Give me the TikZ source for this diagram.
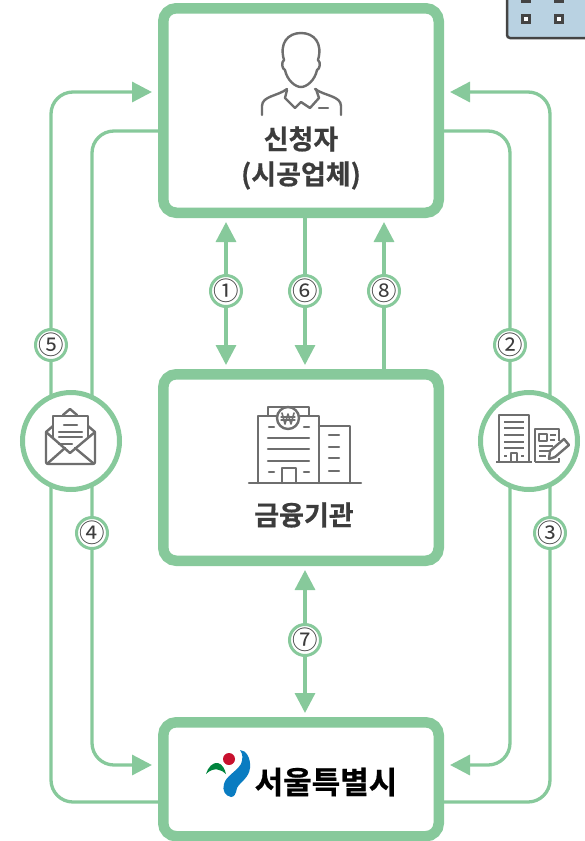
\documentclass[tikz,border=0pt]{standalone}
\usepackage{fontspec}
\setmainfont{Liberation Serif}
\newfontfamily\krfont{Noto Sans CJK KR}
\newfontfamily\krheavy[FakeBold=0.6]{Noto Sans CJK KR Bold}
\usepackage{xcolor}
\usetikzlibrary{arrows.meta, backgrounds, positioning}
\definecolor{Leaf}{HTML}{87C99B}
\definecolor{IconGray}{HTML}{6E6E6E}
\definecolor{InkGray}{HTML}{3C3C3C}
\definecolor{PaleBlue}{HTML}{B9D2E2}
\definecolor{SlateDark}{HTML}{444444}
\definecolor{SeoulRed}{HTML}{C8102E}
\definecolor{SeoulGreen}{HTML}{00843D}
\definecolor{SeoulBlue}{HTML}{0A7CC1}
\tikzset{%
  stage/.style={%
    rectangle,%
    draw=Leaf,%
    fill=white,%
    line width=10.5pt,%
    rounded corners=13pt,%
    minimum width=275.5pt,%
    outer sep=5.25pt,%
  },
  disc/.style={%
    circle,%
    draw=Leaf,%
    fill=white,%
    line width=5pt,%
    minimum size=97pt,%
    inner sep=0pt,%
  },
  stepnum/.style={%
    circle,%
    draw=Leaf,%
    fill=white,%
    line width=3pt,%
    minimum size=31pt,%
    inner sep=-8pt,%
    text=InkGray,%
    font={\krfont\fontsize{25.5}{25.5}\selectfont},%
  },
  flow/.style={%
    draw=Leaf,%
    line width=3.3pt,%
    rounded corners=22pt,%
    shorten >=4pt,%
    shorten <=4pt,%
  },
  arrow/.style={-{Triangle[length=20pt, width=20pt]}},
  twoway/.style={{Triangle[length=20pt, width=20pt]}-{Triangle[length=20pt, width=20pt]}},
  title/.style={%
    text=InkGray,%
    align=center,%
    font={\krheavy\fontsize{27}{35}\selectfont},%
  },
  glyph/.style={%
    draw=IconGray,%
    line width=2.4pt,%
    line join=round,%
    line cap=round,%
  },
  thickglyph/.style={glyph, line width=2.7pt, line cap=butt},
}
\begin{document}
\begin{tikzpicture}[x=1pt, y=-1pt]
    \useasboundingbox (0,0) rectangle (585,841);

    \node [stage, minimum height=204.5pt] (Applicant) at (301,110.5) {};
    \node [stage, minimum height=186.5pt, below = 151pt of Applicant] (Bank) {};
    \node [stage, minimum height=114pt, below = 151pt of Bank] (City) {};

    \node [disc] (MailDisc) at (71,441) {};
    \node [disc] (PermitDisc) at (529,441) {};

    \node [stepnum] (Num1) at (226,291) {①};
    \node [stepnum] (Num6) at (305,291) {⑥};
    \node [stepnum] (Num8) at (384,291) {⑧};
    \node [stepnum] (Num5) at (51,345) {⑤};
    \node [stepnum] (Num4) at (92,533) {④};
    \node [stepnum] (Num2) at (510,345) {②};
    \node [stepnum] (Num3) at (550,533) {③};
    \node [stepnum] (Num7) at (305,640) {⑦};

    \node [title] (ApplicantText) at (301,158) {신청자\\(시공업체)};
    \node [title] (BankText) at (304,515) {금융기관};
    \node [title, text=black, font={\krheavy\fontsize{31}{31}\selectfont}]
      (CityText) at (326,782) {서울특별시};

    \begin{pgfonlayer}{background}
      \draw [flow, twoway] (Num1 |- Applicant.south) -- (Num1 |- Bank.north);
      \draw [flow, arrow, shorten <=0pt] (Num6 |- Applicant.south) -- (Num6 |- Bank.north);
      \draw [flow, arrow, shorten <=0pt] (Num8 |- Bank.north) -- (Num8 |- Applicant.south);
      \draw [flow, twoway] (Num7 |- Bank.south) -- (Num7 |- City.north);

      \draw [flow, arrow, shorten <=0pt, shorten >=6pt]
        (City.west |- 0,802) -| (Num5.center) |- (Applicant.west |- 0,92);
      \draw [flow, arrow, shorten <=0pt, shorten >=6pt]
        (Applicant.west |- 0,131) -| (Num4.center) |- (City.west |- 0,765);
      \draw [flow, arrow, shorten <=0pt, shorten >=6pt]
        (Applicant.east |- 0,131) -| (Num2.center) |- (City.east |- 0,765);
      \draw [flow, arrow, shorten <=0pt, shorten >=6pt]
        (City.east |- 0,802) -| (Num3.center) |- (Applicant.east |- 0,92);
    \end{pgfonlayer}

    % corner sheet
    \fill [PaleBlue, draw=SlateDark, line width=2.5pt, rounded corners=3pt]
      (507,-10) -- (507,38) -- (600,38) -- (600,-10) -- cycle;
    \foreach \px in {526,559} {
      \draw [SlateDark, line width=3pt, fill=white] (\px-3.5,15.5) rectangle (\px+3.5,22.5);
      \draw [SlateDark, line width=3pt, fill=white] (\px-3.5,-6) rectangle (\px+3.5,1.5);
    }

    % applicant figure
    \draw [glyph] (284,60) .. controls (279,43) and (288,33) .. (301,33)
      .. controls (314,33) and (323,43) .. (318,60)
      .. controls (321,62) and (320,69) .. (317,70)
      .. controls (315,80) and (307,87) .. (301,87)
      .. controls (295,87) and (287,80) .. (285,70)
      .. controls (282,69) and (281,62) .. (284,60) -- cycle;
    \draw [glyph] (262,115) -- (262,106) .. controls (262,96) and (278,96) .. (287,89);
    \draw [glyph] (341,115) -- (341,106) .. controls (341,96) and (325,96) .. (315,89);
    \draw [glyph] (287,90) -- (285,98) -- (295,108) -- (301,102) -- (310,108) -- (319,98) -- (316,89);
    \draw [glyph] (319,108) -- (328,108);

    % bank figure
    \draw [glyph] (249,483) -- (361,483);
    \draw [glyph] (258,483) -- (258,416) -- (319,416) -- (319,483);
    \draw [glyph] (319,426) -- (350,426) -- (350,483);
    \draw [glyph] (268,416) -- (268,407) -- (309,407) -- (309,416);
    \draw [glyph, fill=white] (288,418) circle (11);
    \draw [glyph, line width=1.6pt] (282,413) -- (285,424) -- (288,414) -- (291,424) -- (294,413);
    \draw [glyph, line width=1.2pt] (281,417) -- (295,417) (281,420) -- (295,420);
    \draw [glyph] (282,483) -- (282,468) -- (296,468) -- (296,483);
    \foreach \py in {438,449,461} { \draw [glyph] (268,\py) -- (309,\py); }
    \foreach \py in {427,472} {
      \draw [glyph] (269,\py) -- (274,\py);
      \draw [glyph] (304,\py) -- (309,\py);
    }
    \foreach \py in {435,447,458,471} { \draw [glyph] (329,\py) -- (339,\py); }

    % envelope
    \draw [glyph, rounded corners=2pt] (46,432) -- (46,464) -- (95,464) -- (95,432);
    \draw [glyph] (46,432) -- (53,426) (95,432) -- (88,426);
    \draw [glyph] (46,432) -- (70,453) -- (95,432);
    \draw [glyph] (48,463) -- (65,448) (93,463) -- (75,448);
    \draw [glyph] (53,438) -- (53,416) -- (88,416) -- (88,438);
    \draw [glyph] (63,415) -- (70,409) -- (77,415);
    \draw [glyph] (64,425) -- (77,425) (59,432) -- (82,432) (59,437) -- (82,437) (59,444) -- (72,444);

    % permit figure
    \draw [thickglyph] (496,462) -- (532,462);
    \draw [thickglyph] (499,462) -- (499,415) -- (529,415) -- (529,462);
    \foreach \py in {422,428,435,442,448} { \draw [thickglyph] (504,\py) -- (524,\py); }
    \draw [thickglyph, line width=2pt] (511,462) -- (511,453) -- (517,453) -- (517,462);
    \draw [thickglyph, line width=2pt] (504,456) -- (507,456) (521,456) -- (524,456);
    \draw [thickglyph, line width=2pt] (535,462) -- (535,429) -- (559,429) -- (559,441) (559,458) -- (559,462) -- (535,462);
    \draw [thickglyph, line width=2pt] (539,434) rectangle (547,441);
    \draw [thickglyph, line width=2pt] (550,435) -- (556,435) (550,440) -- (555,440)
      (539,446) -- (553,446) (539,451) -- (549,451) (539,456) -- (546,456);
    \draw [glyph, fill=white] (550,451) -- (564,439) -- (569,445) -- (555,457) -- (549,459) -- cycle;

    % city mark
    \fill [SeoulRed] (229,759) circle (6);
    \fill [SeoulGreen] (206,774) .. controls (208,767) and (213,762) .. (218,763)
      .. controls (222,764) and (225,769) .. (226,774)
      .. controls (222,770) and (214,766) .. (206,774) -- cycle;
    \fill [SeoulBlue] (240,750) .. controls (246,750) and (251,758) .. (250,768)
      .. controls (249,778) and (240,782) .. (237,788)
      .. controls (236,794) and (234,797) .. (231,797)
      .. controls (225,796) and (222,790) .. (224,784)
      .. controls (226,776) and (236,772) .. (241,764)
      .. controls (243,759) and (243,754) .. (240,750) -- cycle;
  \end{tikzpicture}
\end{document}
